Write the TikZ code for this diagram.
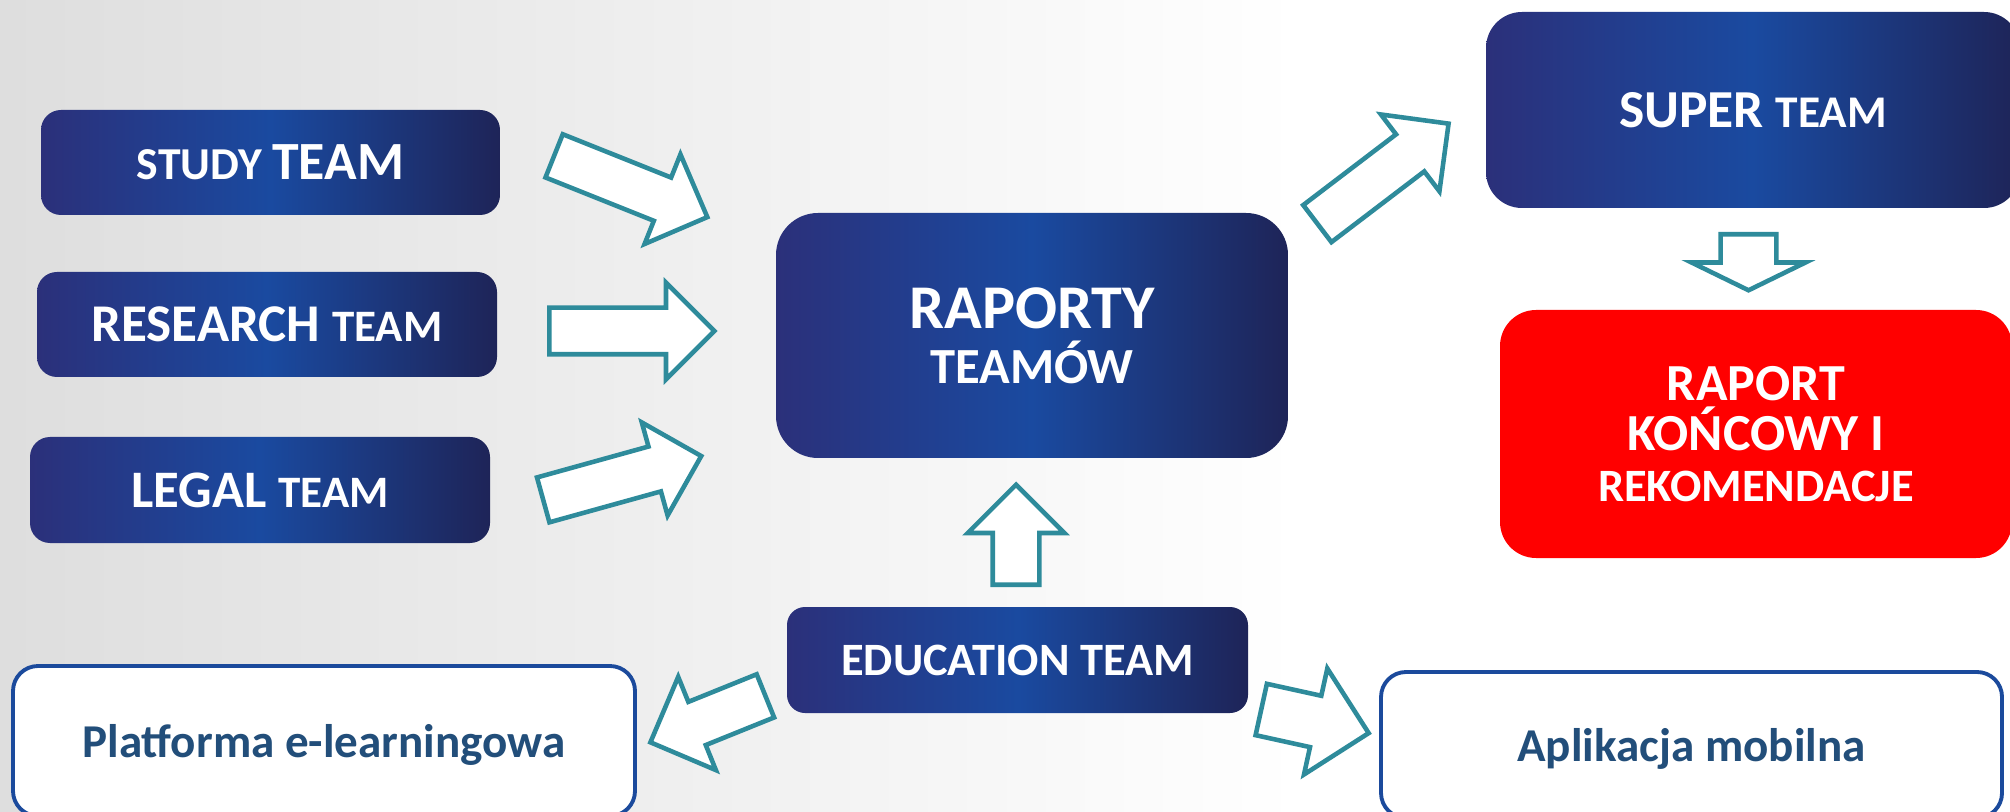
\documentclass[tikz,border=0pt]{standalone}
\usepackage{fontspec}
\setmainfont{Carlito}
\usetikzlibrary{positioning, shapes.arrows}

\definecolor{navyL}{RGB}{43,48,122}
\definecolor{blueM}{RGB}{26,74,160}
\definecolor{navyR}{RGB}{30,36,88}
\definecolor{tealA}{RGB}{46,139,155}
\definecolor{frameB}{RGB}{27,74,156}
\definecolor{textB}{RGB}{34,78,122}

\begin{document}
\begin{tikzpicture}[
    % GLOBAL CFG
    font=\bfseries,
    % Styles
    team/.style={% For the dark blue boxes
        rectangle,
        rounded corners=2mm,
        left color=navyL,
        right color=navyR,
        middle color=blueM,
        text=white,
        inner sep=0pt,
        },
    finalbox/.style={% For the red box at the end
        rectangle,
        rounded corners=3.6mm,
        fill=red,
        text=white,
        align=center,
        inner sep=0pt,
        },
    product/.style={% For the white boxes with a blue frame
        rectangle,
        rounded corners=2.5mm,
        draw=frameB,
        line width=1.1pt,
        fill=white,
        text=textB,
        text depth=0pt,
        },
    blockarrow/.style={% For the hollow arrows
        single arrow,
        draw=tealA,
        fill=white,
        line width=1.3pt,
        inner xsep=0pt,
        inner ysep=2.1mm,
        minimum width=9.2mm,
        single arrow head extend=2.5mm,
        anchor=tail,
        },
    ]

    \newcommand{\fsz}[1]{\fontsize{#1}{#1}\selectfont}

    % Background
    \useasboundingbox (0,0) rectangle (20.1,8.11);
    \clip (0,0) rectangle (20.1,8.11);
    \fill[white] (0,0) rectangle (20.1,8.11);
    \shade[left color=black!13, right color=white] (0,0) rectangle (13,8.11);

    % Team boxes on the left
    \node[team, minimum width=4.59cm, minimum height=1.05cm] (study) at (2.705,6.485) {\fsz{13}STUDY {\fsz{15.3}TEAM}};
    \node[team, minimum width=4.60cm, minimum height=1.05cm] (research) at (2.67,4.865) {\fsz{15.1}RESEARCH {\fsz{12.8}TEAM}};
    \node[team, minimum width=4.60cm, minimum height=1.06cm] (legal) at (2.60,3.21) {\fsz{15}LEGAL {\fsz{12.8}TEAM}};

    % Middle
    \node[team, rounded corners=4.2mm, minimum width=5.12cm, minimum height=2.45cm, align=center,
        font=\bfseries\fontsize{14.4}{15.6}\selectfont] (raporty) at (10.32,4.755) {{\fsz{17.7}RAPORTY}\\TEAMÓW};
    \node[team, rounded corners=1.8mm, minimum width=4.61cm, minimum height=1.06cm] (education) at (10.175,1.51) {\fsz{13.2}EDUCATION TEAM};

    % Right side
    \node[team, rounded corners=3.6mm, minimum width=5.34cm, minimum height=1.96cm] (super) at (17.53,7.01) {\fsz{15.2}SUPER {\fsz{12.9}TEAM}};
    \node[finalbox, minimum width=5.12cm, minimum height=2.48cm,
        font=\bfseries\fontsize{14.8}{14.4}\selectfont] (raport) at (17.56,3.77) {RAPORT\\KOŃCOWY I\\{\fsz{13.2}REKOMENDACJE}};

    % Bottom white boxes
    \node[product, minimum width=6.22cm, minimum height=1.50cm] (platforma) at (3.24,0.70) {\fsz{13.4}Platforma e-learningowa};
    \node[product, minimum width=6.21cm, minimum height=1.46cm] (aplikacja) at (16.915,0.66) {\fsz{13.4}Aplikacja mobilna};

    % Arrows into the reports
    \node[blockarrow, minimum height=1.65cm, rotate=-21.8] (arrow_study) at (5.52,6.56) {};
    \node[blockarrow, minimum height=1.65cm] (arrow_research) at (5.47,4.80) {};
    \node[blockarrow, minimum height=1.64cm, rotate=15.5] (arrow_legal) at (5.41,3.105) {};
    \node[blockarrow, minimum height=1.0cm, rotate=90] (arrow_up) at (10.16,2.24) {};

    % Reports to super team and final report
    \node[blockarrow, minimum height=1.65cm, rotate=37.3] (arrow_super) at (13.155,5.86) {};
    \node[blockarrow, minimum height=0.56cm, minimum width=1.14cm, inner ysep=2.55mm, single arrow head extend=2.9mm,
        single arrow tip angle=128, rotate=-90] (arrow_raport) at (17.485,5.79) {};

    % Education team outputs
    \node[blockarrow, minimum height=1.24cm, minimum width=0.96cm, single arrow head extend=2.7mm, rotate=202] (arrow_platforma) at (7.675,1.16) {};
    \node[blockarrow, minimum height=1.10cm, minimum width=1.04cm, inner ysep=2.4mm, single arrow head extend=2.8mm, rotate=-12.4] (arrow_aplikacja) at (12.59,1.02) {};

\end{tikzpicture}
\end{document}
